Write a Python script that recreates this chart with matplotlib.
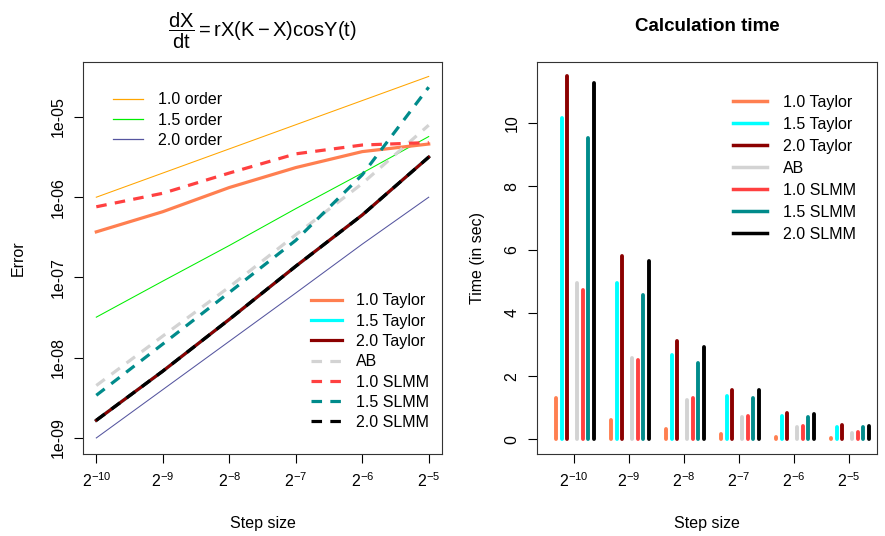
import numpy as np
import matplotlib.pyplot as plt
from matplotlib.lines import Line2D

plt.rcParams['font.family'] = ['Liberation Sans', 'DejaVu Sans']
plt.rcParams['mathtext.fontset'] = 'custom'
plt.rcParams['mathtext.rm'] = 'Liberation Sans'
plt.rcParams['mathtext.it'] = 'Liberation Sans'
plt.rcParams['mathtext.bf'] = 'Liberation Sans:bold'

# step sizes as powers of two
exps = [-10, -9, -8, -7, -6, -5]

# reference slopes
order10 = [1.0e-6, 2.0e-6, 4.0e-6, 8.0e-6, 1.6e-5, 3.2e-5]
order15 = [3.2e-8, 9.0e-8, 2.5e-7, 7.2e-7, 2.0e-6, 5.7e-6]
order20 = [1.0e-9, 4.0e-9, 1.6e-8, 6.4e-8, 2.6e-7, 1.0e-6]
order_names = ['1.0 order', '1.5 order', '2.0 order']
order_colors = ['#FFA500', '#00EE00', '#55559F']

# errors
err_taylor10 = [3.7e-7, 6.6e-7, 1.32e-6, 2.34e-6, 3.7e-6, 4.6e-6]
err_taylor15 = [1.66e-9, 6.8e-9, 3.0e-8, 1.38e-7, 6.0e-7, 3.16e-6]
err_taylor20 = [1.66e-9, 6.8e-9, 3.0e-8, 1.38e-7, 6.0e-7, 3.16e-6]
err_ab = [4.5e-9, 1.86e-8, 7.6e-8, 3.4e-7, 1.48e-6, 7.9e-6]
err_slmm10 = [7.6e-7, 1.12e-6, 2.0e-6, 3.47e-6, 4.47e-6, 4.8e-6]
err_slmm15 = [3.4e-9, 1.48e-8, 6.5e-8, 2.9e-7, 1.9e-6, 2.35e-5]
err_slmm20 = [1.66e-9, 6.8e-9, 3.0e-8, 1.38e-7, 6.0e-7, 3.16e-6]

# calculation times (sec)
t_taylor10 = [1.31, 0.60, 0.32, 0.18, 0.09, 0.05]
t_taylor15 = [10.15, 4.95, 2.68, 1.38, 0.73, 0.40]
t_taylor20 = [11.50, 5.80, 3.11, 1.55, 0.83, 0.46]
t_ab = [4.95, 2.58, 1.24, 0.70, 0.38, 0.20]
t_slmm10 = [4.72, 2.50, 1.31, 0.73, 0.41, 0.23]
t_slmm15 = [9.52, 4.58, 2.42, 1.31, 0.70, 0.38]
t_slmm20 = [11.26, 5.63, 2.91, 1.55, 0.80, 0.44]

names = ['1.0 Taylor', '1.5 Taylor', '2.0 Taylor', 'AB', '1.0 SLMM', '1.5 SLMM', '2.0 SLMM']
colors = ['#FF7F50', '#00FFFF', '#8B0000', '#D3D3D3', '#FF4040', '#008B8B', '#000000']
styles = ['-', '-', '-', 'dashed', 'dashed', 'dashed', 'dashed']
errors = [err_taylor10, err_taylor15, err_taylor20, err_ab, err_slmm10, err_slmm15, err_slmm20]
times = [t_taylor10, t_taylor15, t_taylor20, t_ab, t_slmm10, t_slmm15, t_slmm20]
offsets = [-0.32, -0.22, -0.12, 0.06, 0.16, 0.26, 0.36]

dash = (0, (3.3, 2.6))
fs = 11.5

fig = plt.figure(figsize=(8.85, 5.36), dpi=100)
ax1 = fig.add_axes([83 / 885, 82 / 536, 359 / 885, 392 / 536])
ax2 = fig.add_axes([537 / 885, 82 / 536, 340 / 885, 392 / 536])

h = 2.0 ** np.array(exps)

# ---- left: error vs step size
for vals, c in zip([order10, order15, order20], order_colors):
    ax1.plot(h, vals, color=c, lw=0.75)
for i in range(len(names)):
    ls = dash if styles[i] == 'dashed' else '-'
    ax1.plot(h, errors[i], color=colors[i], lw=2.3, linestyle=ls)

ax1.set_xscale('log', base=2)
ax1.set_yscale('log')
ax1.set_xlim(2 ** -10.2, 2 ** -4.8)
ax1.set_ylim(10 ** -9.2, 10 ** -4.315)
ax1.set_xticks(h)
ax1.set_xticklabels(['$2^{%d}$' % e for e in exps])
ax1.set_yticks([1e-9, 1e-8, 1e-7, 1e-6, 1e-5])
ax1.set_yticklabels(['1e-09', '1e-08', '1e-07', '1e-06', '1e-05'], rotation=90, va='center')
ax1.minorticks_off()
ax1.set_xlabel('Step size', fontsize=fs, labelpad=19)
ax1.set_ylabel('Error', fontsize=fs, labelpad=18)
ax1.set_title(r'$\dfrac{dX}{dt} = rX(K - X)\mathrm{cos}Y(t)$', fontsize=14.5, pad=18)

hand1 = [Line2D([], [], color=c, lw=0.9) for c in order_colors]
leg1 = ax1.legend(hand1, order_names, loc='upper left', bbox_to_anchor=(0.06, 0.943), frameon=False,
                  fontsize=fs, handlelength=1.9, handletextpad=0.95, labelspacing=0.33, borderpad=0)
ax1.add_artist(leg1)
hand2 = [Line2D([], [], color=colors[i], lw=2.3, linestyle=dash if styles[i] == 'dashed' else '-')
         for i in range(len(names))]
ax1.legend(hand2, names, loc='upper left', bbox_to_anchor=(0.613, 0.43), frameon=False,
           fontsize=fs, handlelength=1.95, handletextpad=0.85, labelspacing=0.33, borderpad=0)

# ---- right: calculation time
for i in range(len(names)):
    x = np.array(exps) + offsets[i]
    ax2.vlines(x, 0, times[i], color=colors[i], lw=2.8, capstyle='round')
ax2.set_xlim(-10.67, -4.49)
ax2.set_ylim(-0.46, 11.93)
ax2.set_xticks(exps)
ax2.set_xticklabels(['$2^{%d}$' % e for e in exps])
ax2.set_yticks([0, 2, 4, 6, 8, 10])
ax2.set_yticklabels(['0', '2', '4', '6', '8', '10'], rotation=90, va='center')
ax2.set_xlabel('Step size', fontsize=fs, labelpad=19)
ax2.set_ylabel('Time (in sec)', fontsize=fs, labelpad=14)
ax2.set_title('Calculation time', fontsize=13.5, fontweight='bold', pad=22)

hand3 = [Line2D([], [], color=c, lw=2.5) for c in colors]
ax2.legend(hand3, names, loc='upper left', bbox_to_anchor=(0.553, 0.937), frameon=False,
           fontsize=fs, handlelength=2.1, handletextpad=1.0, labelspacing=0.44, borderpad=0)

for ax in (ax1, ax2):
    ax.tick_params(labelsize=fs, length=6.5, width=0.8, pad=6, direction='out')
    for s in ax.spines.values():
        s.set_linewidth(0.8)
        s.set_color('#333333')

fig.savefig('out.png', dpi=100)
